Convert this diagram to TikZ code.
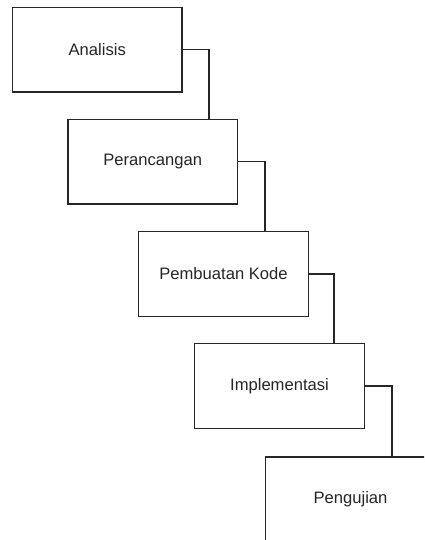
\documentclass[tikz,border=0pt]{standalone}
\usepackage{fontspec}
\setmainfont{Liberation Sans}
\begin{document}
\begin{tikzpicture}[x=1pt,y=-1pt,
  stage/.style={draw=black!85, line width=1.1pt, minimum width=169.5pt, minimum height=84.5pt, inner sep=0pt, font=\fontsize{16.6}{19}\selectfont, text=black!85},
  link/.style={draw=black!85, line width=1.1pt}]
\useasboundingbox (0,0) rectangle (424,540);
\clip (0,0) rectangle (424,540);
\fill[white] (0,0) rectangle (424,540);
\node[stage] (a) at (97.25,49.75) {Analisis};
\node[stage] (b) at (152.75,161.75) {Perancangan};
\node[stage] (c) at (223.5,274) {Pembuatan Kode};
\node[stage] (d) at (279.5,386) {Implementasi};
\node[stage] (e) at (350.5,499.25) {Pengujian};
\coordinate (ab) at (209,0);
\coordinate (bc) at (265,0);
\coordinate (cd) at (334,0);
\coordinate (de) at (392,0);
\draw[link] (a.east) -| (ab |- b.north);
\draw[link] (b.east) -| (bc |- c.north);
\draw[link] (c.east) -| (cd |- d.north);
\draw[link] (d.east) -| (de |- e.north);
\end{tikzpicture}
\end{document}
